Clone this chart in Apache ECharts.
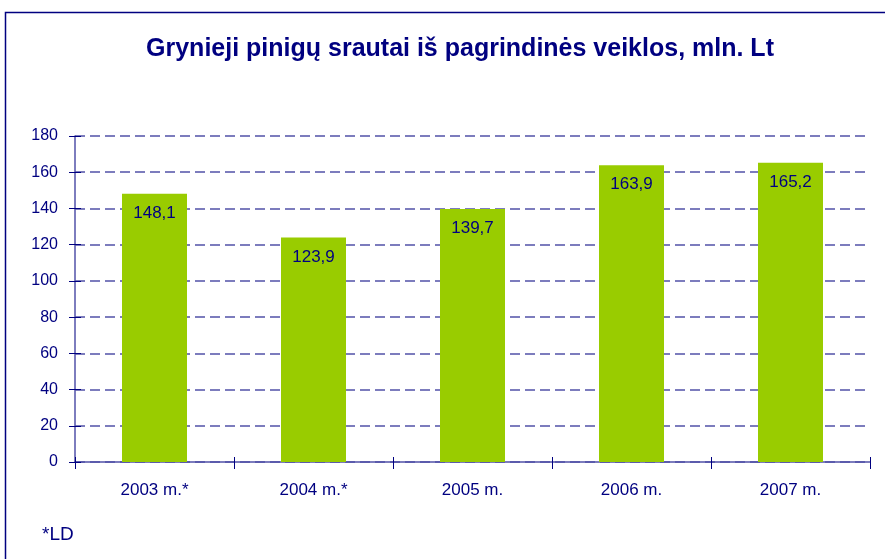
<!DOCTYPE html>
<html>
<head>
<meta charset="utf-8">
<script src="https://cdn.jsdelivr.net/npm/echarts@6/dist/echarts.min.js"></script>
<style>
  html, body { margin: 0; padding: 0; background: #fff; }
  #chart { width: 885px; height: 559px; }
</style>
</head>
<body>
<div id="chart"></div>
<script>
  const titleText = "Grynieji pinigų srautai iš pagrindinės veiklos, mln. Lt"
  const years = ["2003 m.*", "2004 m.*", "2005 m.", "2006 m.", "2007 m."]
  const cashFlow = [148.1, 123.9, 139.7, 163.9, 165.2]
  const yTicks = [0, 20, 40, 60, 80, 100, 120, 140, 160, 180]
  const footnote = "*LD"

  const navy = "#000080"
  const axisColor = "#5252a8"
  const font = "Arial, 'Liberation Sans', sans-serif"

  const chart = echarts.init(document.getElementById("chart"))

  const yMin = yTicks[0]
  const yMax = yTicks[yTicks.length - 1]
  const yStep = yTicks[1] - yTicks[0]

  chart.setOption({
    animation: false,
    title: {
      text: titleText,
      left: 455,
      top: 32,
      textAlign: "center",
      textStyle: { color: navy, fontSize: 25, fontWeight: "bold", fontFamily: font }
    },
    graphic: [
      {
        type: "rect",
        shape: { x: 5.5, y: 12.5, width: 900, height: 600 },
        style: { fill: null, stroke: navy, lineWidth: 1.5 }
      },
      {
        type: "text",
        left: 42,
        top: 525,
        style: { text: footnote, fill: navy, font: "19px " + font }
      }
    ],
    grid: { left: 75, right: 15, top: 136, bottom: 97 },
    xAxis: [
      {
        type: "category",
        data: years,
        axisLine: { lineStyle: { color: axisColor, width: 1.5 } },
        axisTick: { show: true, length: 7, lineStyle: { color: navy } },
        axisLabel: { color: navy, fontSize: 17, fontFamily: font, margin: 20 }
      },
      {
        type: "category",
        data: years,
        position: "bottom",
        axisLine: { show: false },
        axisTick: { show: true, inside: true, length: 5, lineStyle: { color: navy } },
        axisLabel: { show: false }
      }
    ],
    yAxis: [
      {
        type: "value",
        min: yMin,
        max: yMax,
        interval: yStep,
        axisLine: { show: true, lineStyle: { color: axisColor, width: 1.5 } },
        axisTick: { show: true, length: 6, lineStyle: { color: navy } },
        axisLabel: { color: navy, fontSize: 16, fontFamily: font, margin: 17 },
        splitLine: {
          show: true,
          lineStyle: { color: axisColor, type: [10, 5], width: 1.6 }
        }
      },
      {
        type: "value",
        min: yMin,
        max: yMax,
        interval: yStep,
        position: "left",
        axisLine: { show: false },
        axisTick: { show: true, inside: true, length: 6, lineStyle: { color: navy } },
        axisLabel: { show: false },
        splitLine: { show: false }
      }
    ],
    series: [
      {
        type: "bar",
        data: cashFlow,
        barWidth: 65,
        itemStyle: { color: "#99cc00" },
        label: {
          show: true,
          position: "insideTop",
          distance: 11,
          color: navy,
          fontSize: 17,
          fontFamily: font,
          formatter: (p) => p.value.toFixed(1).replace(".", ",")
        }
      }
    ]
  })
</script>
</body>
</html>
